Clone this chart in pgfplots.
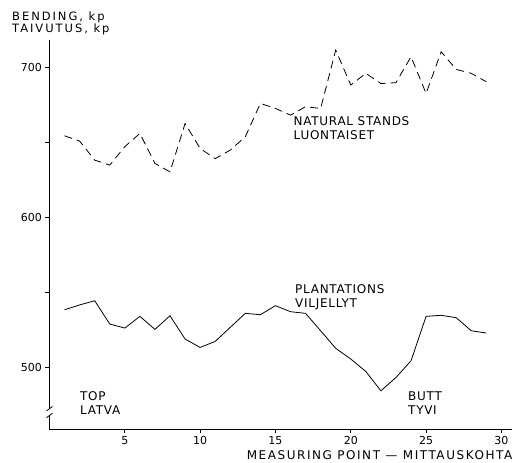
\documentclass[border=0pt]{standalone}
\usepackage{fontspec}
\setmainfont{DejaVu Sans}
\newfontfamily\spaced[LetterSpace=6]{DejaVu Sans}
\newfontfamily\wide[LetterSpace=17]{DejaVu Sans}
\newfontfamily\xlab[LetterSpace=13]{DejaVu Sans}
\usepackage{pgfplots}
\pgfplotsset{compat=1.18}
\begin{document}
\begin{tikzpicture}
\useasboundingbox (-49.5pt,-34pt) rectangle (473.5pt,429pt);
\begin{axis}[
  at={(0,0)}, anchor=south west,
  scale only axis, width=462pt, height=389pt,
  xmin=0, xmax=30.67, ymin=459, ymax=718,
  axis lines=left, axis line style={-, line width=0.8pt},
  tick align=outside, major tick length=4pt, minor tick length=4pt,
  tick style={line width=0.8pt, black},
  xtick={5,10,15,20,25,30},
  ytick={500,600,700}, minor ytick={550,650},
  ticklabel style={font=\fontsize{11}{12}\selectfont},
  /pgf/number format/assume math mode=true,
  clip=false,
]
\addplot[black, line width=0.8pt, dash pattern=on 8pt off 5pt] coordinates {
(1,654.2)(2,650.7)(3,638)(4,634.7)(5,647)(6,655.8)(7,635.8)(8,630.2)(9,662.4)(10,645.8)
(11,639)(12,644.7)(13,653.6)(14,675.8)(15,672.4)(16,668)(17,673.6)(18,672.4)(19,711.3)(20,688)
(21,695.8)(22,689)(23,689.6)(24,706.9)(25,682.4)(26,710.2)(27,698.4)(28,695.8)(29,690.2)};
\addplot[black, line width=0.8pt] coordinates {
(1,538.4)(2,541.6)(3,544.4)(4,528.9)(5,526.2)(6,534)(7,525.3)(8,534.4)(9,518.9)(10,513.3)
(11,517.3)(12,526.7)(13,536)(14,535.1)(15,541.1)(16,537.1)(17,536)(18,524.4)(19,512.7)(20,505.6)
(21,497.3)(22,484.4)(23,493.3)(24,504.4)(25,534)(26,534.7)(27,533.1)(28,524.4)(29,522.9)};
\begin{scope}[every node/.style={font=\spaced\fontsize{12}{14.5}\selectfont, align=left, inner sep=0pt, anchor=north west}]
\node at (axis cs:16.2,667.3) {NATURAL STANDS\\LUONTAISET};
\node at (axis cs:16.3,555.3) {PLANTATIONS\\VILJELLYT};
\node at (axis cs:2.02,484.2) {TOP\\LATVA};
\node at (axis cs:23.8,484.2) {BUTT\\TYVI};
\end{scope}
\fill[white] ([xshift=-2pt]axis cs:0,468) rectangle ([xshift=2pt]axis cs:0,472.5);
\draw[line width=0.8pt] ([xshift=-3pt]axis cs:0,466.5) -- ([xshift=3pt]axis cs:0,469.5);
\draw[line width=0.8pt] ([xshift=-3pt]axis cs:0,471) -- ([xshift=3pt]axis cs:0,474);
\end{axis}
\node[anchor=north west, align=left, inner sep=0pt, font=\wide\fontsize{11.5}{11.5}\selectfont] at (-37.5pt,417pt) {BENDING, kp\\TAIVUTUS, kp};
\node[anchor=base east, inner sep=0pt, font=\xlab\fontsize{12}{13}\selectfont] at (463pt,-31pt) {MEASURING POINT — MITTAUSKOHTA};
\end{tikzpicture}
\end{document}
